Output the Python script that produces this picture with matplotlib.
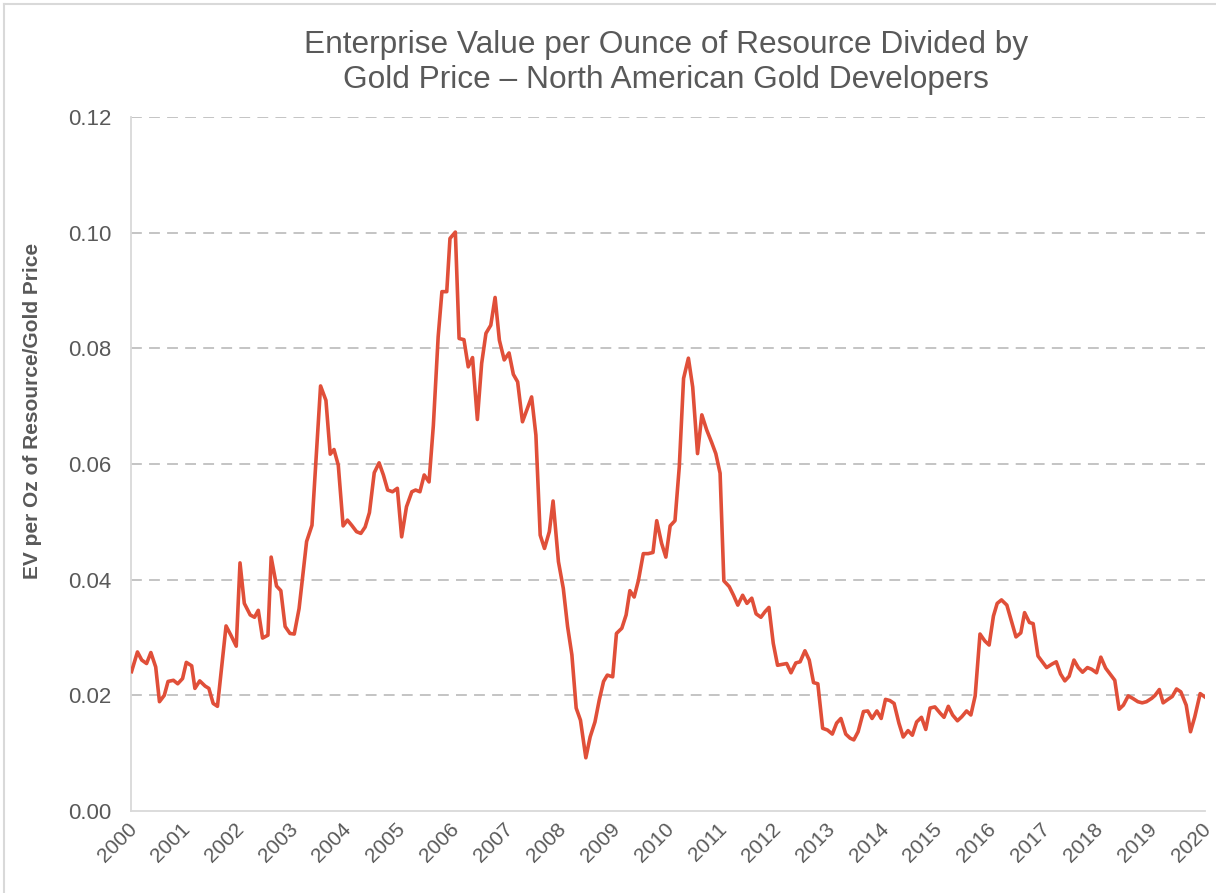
import matplotlib
matplotlib.use("Agg")
import matplotlib.pyplot as plt
import matplotlib.transforms as mtransforms
from matplotlib.lines import Line2D

years = [
    2000.01, 2000.12, 2000.20, 2000.29, 2000.37, 2000.46, 2000.53, 2000.62, 2000.69, 2000.79,
    2000.87, 2000.96, 2001.03, 2001.13, 2001.19, 2001.28, 2001.38, 2001.45, 2001.53, 2001.61,
    2001.77, 2001.86, 2001.96, 2002.03, 2002.11, 2002.22, 2002.30, 2002.37, 2002.45, 2002.55,
    2002.61, 2002.71, 2002.79, 2002.87, 2002.96, 2003.04, 2003.13, 2003.27, 2003.37,
    2003.53, 2003.63, 2003.71, 2003.78, 2003.86, 2003.95, 2004.03, 2004.11, 2004.20, 2004.28,
    2004.36, 2004.44, 2004.53, 2004.62, 2004.70, 2004.78, 2004.87, 2004.96, 2005.04, 2005.13,
    2005.23, 2005.30, 2005.38, 2005.46, 2005.55, 2005.63,
    2005.72, 2005.79, 2005.88, 2005.94, 2006.04, 2006.11, 2006.20, 2006.28, 2006.36, 2006.45,
    2006.53, 2006.61, 2006.70, 2006.78, 2006.86, 2006.95, 2007.04, 2007.12, 2007.20, 2007.29,
    2007.37, 2007.46, 2007.54, 2007.62,
    2007.70, 2007.79, 2007.86, 2007.96, 2008.05, 2008.13, 2008.21, 2008.29, 2008.37, 2008.47,
    2008.55, 2008.64, 2008.72, 2008.80, 2008.87, 2008.97, 2009.04, 2009.14, 2009.22, 2009.29,
    2009.37, 2009.45, 2009.54, 2009.63, 2009.72, 2009.79, 2009.88, 2009.96, 2010.04, 2010.13,
    2010.21, 2010.29, 2010.38, 2010.46, 2010.55, 2010.63, 2010.72, 2010.81, 2010.89, 2010.97,
    2011.04, 2011.14, 2011.22, 2011.30, 2011.39, 2011.47, 2011.56, 2011.64, 2011.73, 2011.81,
    2011.88, 2011.96, 2012.04,
    2012.21, 2012.29, 2012.38, 2012.46, 2012.55, 2012.63, 2012.71, 2012.79, 2012.88, 2012.97,
    2013.06, 2013.14, 2013.22, 2013.31, 2013.39, 2013.46, 2013.54, 2013.64, 2013.72, 2013.80,
    2013.89, 2013.97, 2014.05, 2014.13, 2014.21, 2014.30, 2014.38, 2014.47, 2014.55, 2014.63,
    2014.72, 2014.80, 2014.88, 2014.97,
    2015.07, 2015.14, 2015.22, 2015.30, 2015.39, 2015.47, 2015.56, 2015.64, 2015.72, 2015.81,
    2015.90, 2015.98, 2016.06, 2016.13, 2016.21, 2016.31, 2016.39, 2016.48, 2016.57, 2016.64,
    2016.73, 2016.80, 2016.89, 2016.97, 2017.05, 2017.15, 2017.23, 2017.31, 2017.39, 2017.47,
    2017.56, 2017.64, 2017.72, 2017.81, 2017.89, 2017.98, 2018.06, 2018.15, 2018.23, 2018.32,
    2018.40, 2018.48, 2018.57, 2018.65, 2018.75, 2018.83, 2018.91, 2019.01, 2019.07, 2019.15,
    2019.22, 2019.31, 2019.39, 2019.47, 2019.55, 2019.65, 2019.73, 2019.81, 2019.91, 2020.00,
]

ev_ratio = [
    0.0241, 0.0275, 0.0261, 0.0255, 0.0274, 0.0249, 0.0189, 0.0200, 0.0224, 0.0226,
    0.0220, 0.0229, 0.0257, 0.0251, 0.0212, 0.0225, 0.0216, 0.0212, 0.0186, 0.0181,
    0.0320, 0.0304, 0.0285, 0.0429, 0.0359, 0.0339, 0.0335, 0.0347, 0.0299, 0.0304,
    0.0439, 0.0389, 0.0381, 0.0319, 0.0307, 0.0306, 0.0350, 0.0466, 0.0494,
    0.0735, 0.0710, 0.0617, 0.0625, 0.0598, 0.0493, 0.0503, 0.0494, 0.0483, 0.0480,
    0.0491, 0.0516, 0.0585, 0.0602, 0.0581, 0.0555, 0.0552, 0.0558, 0.0474, 0.0526,
    0.0552, 0.0555, 0.0552, 0.0581, 0.0569, 0.0666,
    0.0820, 0.0898, 0.0898, 0.0990, 0.1001, 0.0817, 0.0815, 0.0768, 0.0784, 0.0677,
    0.0774, 0.0826, 0.0840, 0.0888, 0.0814, 0.0780, 0.0792, 0.0755, 0.0742, 0.0673,
    0.0693, 0.0716, 0.0650, 0.0477,
    0.0454, 0.0483, 0.0536, 0.0431, 0.0385, 0.0319, 0.0270, 0.0178, 0.0157, 0.0092,
    0.0128, 0.0154, 0.0192, 0.0224, 0.0235, 0.0232, 0.0307, 0.0316, 0.0339, 0.0381,
    0.0370, 0.0399, 0.0445, 0.0445, 0.0447, 0.0502, 0.0463, 0.0439, 0.0493, 0.0502,
    0.0595, 0.0748, 0.0783, 0.0733, 0.0618, 0.0685, 0.0659, 0.0638, 0.0618, 0.0584,
    0.0398, 0.0388, 0.0373, 0.0356, 0.0373, 0.0359, 0.0368, 0.0341, 0.0335, 0.0345,
    0.0352, 0.0290, 0.0252,
    0.0255, 0.0239, 0.0256, 0.0258, 0.0277, 0.0261, 0.0222, 0.0220, 0.0143, 0.0140,
    0.0133, 0.0152, 0.0160, 0.0133, 0.0126, 0.0123, 0.0137, 0.0172, 0.0173, 0.0160,
    0.0173, 0.0160, 0.0193, 0.0191, 0.0186, 0.0152, 0.0128, 0.0139, 0.0131, 0.0154,
    0.0162, 0.0141, 0.0178, 0.0180,
    0.0169, 0.0162, 0.0181, 0.0166, 0.0156, 0.0163, 0.0173, 0.0166, 0.0199, 0.0306,
    0.0294, 0.0287, 0.0337, 0.0359, 0.0365, 0.0356, 0.0330, 0.0301, 0.0308, 0.0343,
    0.0326, 0.0324, 0.0268, 0.0258, 0.0248, 0.0254, 0.0258, 0.0237, 0.0225, 0.0233,
    0.0261, 0.0248, 0.0240, 0.0248, 0.0245, 0.0239, 0.0266, 0.0247, 0.0237, 0.0226,
    0.0176, 0.0183, 0.0199, 0.0195, 0.0189, 0.0187, 0.0189, 0.0195, 0.0200, 0.0210,
    0.0187, 0.0193, 0.0198, 0.0211, 0.0206, 0.0183, 0.0137, 0.0163, 0.0203, 0.0197,
]

tick_years = list(range(2000, 2021))
tick_labels = [str(y) for y in tick_years]
y_ticks = [0.00, 0.02, 0.04, 0.06, 0.08, 0.10, 0.12]
y_tick_labels = ["0.00", "0.02", "0.04", "0.06", "0.08", "0.10", "0.12"]

title = "Enterprise Value per Ounce of Resource Divided by\nGold Price \u2013 North American Gold Developers"
ylabel = "EV per Oz of Resource/Gold Price"

plt.rcParams['font.family'] = ['Liberation Sans', 'DejaVu Sans']
W, H = 1216, 893
fig = plt.figure(figsize=(W / 100, H / 100), dpi=100)
fig.patch.set_facecolor('white')

ax = fig.add_axes([131 / W, 1 - 811 / H, (1205 - 131) / W, (811 - 117) / H])
ax.plot(years, ev_ratio, color='#E04F39', lw=2.6, solid_joinstyle='round', zorder=3)

ax.set_xlim(2000, 2020)
ax.set_ylim(0, 0.12)
ax.set_yticks(y_ticks)
ax.set_yticklabels(y_tick_labels)
ax.set_xticks(tick_years)
ax.set_xticklabels(tick_labels, rotation=45, ha='right', rotation_mode='anchor')

grey = '#595959'
ax.tick_params(axis='y', length=0, pad=14, labelsize=16, labelcolor=grey)
ax.tick_params(axis='x', length=0, pad=6, labelsize=15, labelcolor=grey)

shift = mtransforms.ScaledTranslation(-4 / 100, 0, fig.dpi_scale_trans)
for lbl in ax.get_xticklabels():
    lbl.set_transform(lbl.get_transform() + shift)

for v in y_ticks[1:]:
    ax.axhline(v, color='#BFBFBF', lw=1.3, ls=(0, (6, 4)), zorder=1)

for s in ['top', 'right']:
    ax.spines[s].set_visible(False)
ax.spines['left'].set_color('#D9D9D9')
ax.spines['bottom'].set_color('#D9D9D9')
ax.spines['left'].set_linewidth(1.3)
ax.spines['bottom'].set_linewidth(1.3)

fig.text(666 / W, 1 - 30 / H, title, ha='center', va='top', fontsize=22.8,
         color=grey, linespacing=1.2)
fig.text(33 / W, 1 - 411 / H, ylabel, ha='center', va='center', rotation=90,
         fontsize=15, fontweight='bold', color=grey)

# chart border (left and top edges visible)
fig.add_artist(Line2D([4 / W, 4 / W], [0, 1 - 4 / H], transform=fig.transFigure,
                      color='#D9D9D9', lw=1.5))
fig.add_artist(Line2D([4 / W, 1], [1 - 4 / H, 1 - 4 / H], transform=fig.transFigure,
                      color='#D9D9D9', lw=1.5))

fig.savefig('out.png', dpi=100, facecolor='white')
